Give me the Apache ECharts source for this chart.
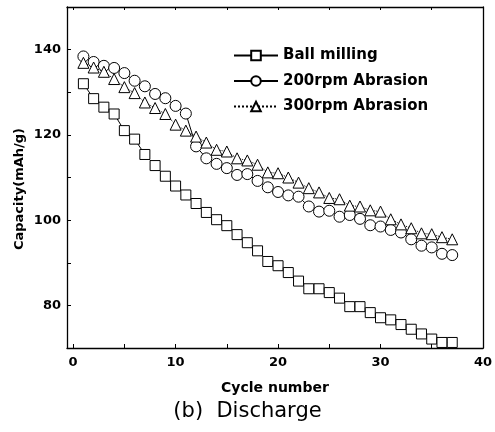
<!DOCTYPE html>
<html>
<head>
<meta charset="utf-8">
<script src="https://cdn.jsdelivr.net/npm/echarts@6/dist/echarts.min.js"></script>
<style>html,body{margin:0;padding:0;background:#fff}#c{width:495px;height:432px}</style>
</head>
<body>
<div id="c"></div>
<script>
var cycles = [];
for (var i = 1; i <= 37; i++) cycles.push(i);
var ballMilling = [132.0,128.5,126.5,124.9,121.0,119.0,115.4,112.8,110.3,108.0,105.9,103.9,101.8,100.1,98.7,96.6,94.7,92.8,90.3,89.3,87.7,85.7,83.9,83.9,83.0,81.7,79.7,79.7,78.3,77.1,76.6,75.5,74.4,73.3,72.1,71.3,71.3];
var rpm200 = [138.4,137.1,136.2,135.7,134.5,132.7,131.4,129.6,128.6,126.8,125.0,117.3,114.5,113.2,112.2,110.6,110.8,109.2,107.7,106.6,105.8,105.5,103.2,102.0,102.2,100.8,101.2,100.3,98.8,98.5,97.7,97.1,95.5,94.0,93.6,92.1,91.8];
var rpm300 = [136.9,135.8,134.8,133.1,131.2,129.8,127.6,126.3,124.9,122.4,121.0,119.6,118.2,116.5,116.1,114.5,114.0,113.0,111.2,111.0,110.0,108.8,107.5,106.5,105.2,104.9,103.4,103.2,102.3,102.0,100.2,99.0,98.1,96.9,96.7,96.0,95.5];
var xTickLabels = [0,10,20,30,40];
var xTicks = [0,5,10,15,20,25,30,35,40];
var yTickLabels = [80,100,120,140];
var yTicks = [80,90,100,110,120,130,140];
var seriesNames = ['Ball milling','200rpm Abrasion','300rpm Abrasion'];

function pairs(arr){ return arr.map(function(v,i){ return [cycles[i], v]; }); }

var font = 'DejaVu Sans';
var chart = echarts.init(document.getElementById('c'), null, {renderer:'canvas'});
var mk = {color:'#fff', borderColor:'#000', borderWidth:1};
var axLine = {show:true, onZero:false, lineStyle:{color:'#000', width:1.3}};
chart.setOption({
  animation:false,
  backgroundColor:'#fff',
  title:{text:'(b)  Discharge', left:'center', top:401, padding:0,
    textStyle:{fontFamily:font, fontSize:21, fontWeight:'normal', color:'#000'}},
  grid:{left:67, right:10, top:7, bottom:84},
  legend:{orient:'vertical', left:233, top:48, padding:0, itemWidth:44, itemHeight:12, itemGap:10.5,
    textStyle:{fontFamily:font, fontSize:15, fontWeight:'bold', color:'#000'},
    data:seriesNames},
  xAxis:[{type:'value', min:-0.6, max:40,
    name:'Cycle number', nameLocation:'middle', nameGap:33,
    nameTextStyle:{fontFamily:font, fontSize:14, fontWeight:'bold', color:'#000'},
    axisLine:axLine,
    axisTick:{inside:true, length:4, customValues:xTicks, lineStyle:{color:'#000'}},
    axisLabel:{customValues:xTickLabels, margin:8, fontFamily:font, fontSize:13, fontWeight:'bold', color:'#000'},
    splitLine:{show:false}},
   {type:'value', position:'top', min:-0.6, max:40,
    axisLine:axLine,
    axisTick:{inside:true, length:3, customValues:xTicks, lineStyle:{color:'#000'}},
    axisLabel:{show:false}, splitLine:{show:false}}],
  yAxis:[{type:'value', min:70, max:150,
    axisLine:axLine,
    axisTick:{inside:true, length:4, customValues:yTicks, lineStyle:{color:'#000'}},
    axisLabel:{customValues:yTickLabels, margin:6, fontFamily:font, fontSize:13, fontWeight:'bold', color:'#000'},
    splitLine:{show:false}},
   {type:'value', position:'right', min:70, max:150,
    axisLine:axLine,
    axisTick:{show:false}, axisLabel:{show:false}, splitLine:{show:false}}],
  graphic:[{type:'text', x:20, y:189, rotation:Math.PI/2,
    style:{text:'Capacity(mAh/g)', fontFamily:font, fontSize:13, fontWeight:'bold', fill:'#000', align:'center', verticalAlign:'middle'}}],
  series:[
    {name:seriesNames[0], type:'line', data:pairs(ballMilling), symbol:'rect', symbolSize:10,
      lineStyle:{color:'#000', width:1}, itemStyle:mk},
    {name:seriesNames[1], type:'line', data:pairs(rpm200), symbol:'circle', symbolSize:11,
      lineStyle:{color:'#000', width:1}, itemStyle:mk},
    {name:seriesNames[2], type:'line', data:pairs(rpm300), symbol:'triangle', symbolSize:11,
      lineStyle:{color:'#000', width:1, type:'dotted'}, itemStyle:mk}
  ]
});
</script>
</body>
</html>
